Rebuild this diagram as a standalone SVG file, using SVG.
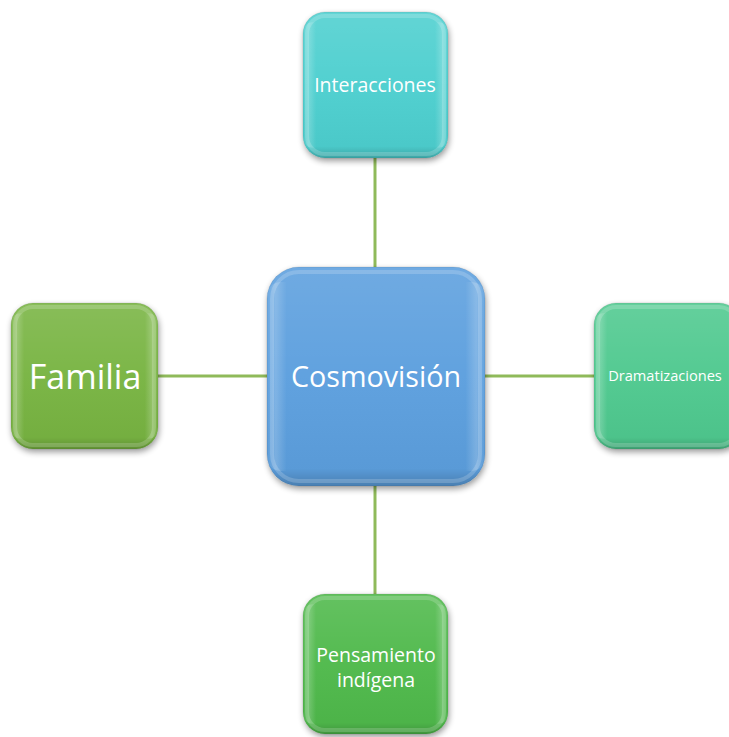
<svg xmlns="http://www.w3.org/2000/svg" width="729" height="737" viewBox="0 0 729 737">
<style>
.lbl{font-family:"Open Sans","Liberation Sans",sans-serif;fill:#ffffff;text-anchor:middle}
.conn{stroke:#8fba5a;stroke-width:3;fill:none}
.bevel{fill:url(#bev)}
.side{fill:url(#sidegrad)}
.edge{fill:none;stroke:#ffffff;stroke-opacity:0.18;stroke-width:4}
.rim{fill:none;stroke:#000000;stroke-opacity:0.08;stroke-width:1}
</style>
<defs>
<filter id="sh" x="-20%" y="-20%" width="140%" height="140%">
<feGaussianBlur in="SourceAlpha" stdDeviation="3"/>
<feOffset dx="1" dy="3" result="b"/>
<feComponentTransfer><feFuncA type="linear" slope="0.4"/></feComponentTransfer>
<feMerge><feMergeNode/><feMergeNode in="SourceGraphic"/></feMerge>
</filter>
<linearGradient id="bev" x1="0" y1="0" x2="0" y2="1">
<stop offset="0" stop-color="#ffffff" stop-opacity="0.12"/>
<stop offset="0.5" stop-color="#ffffff" stop-opacity="0.03"/>
<stop offset="0.92" stop-color="#000000" stop-opacity="0.03"/>
<stop offset="1" stop-color="#000000" stop-opacity="0.2"/>
</linearGradient>
<linearGradient id="sidegrad" x1="0" y1="0" x2="1" y2="0">
<stop offset="0" stop-color="#ffffff" stop-opacity="0"/>
<stop offset="0.04" stop-color="#ffffff" stop-opacity="0.2"/>
<stop offset="0.09" stop-color="#ffffff" stop-opacity="0"/>
<stop offset="0.91" stop-color="#ffffff" stop-opacity="0"/>
<stop offset="0.96" stop-color="#ffffff" stop-opacity="0.2"/>
<stop offset="1" stop-color="#ffffff" stop-opacity="0"/>
</linearGradient>
</defs>
<g id="connectors">
<line class="conn" x1="375" y1="158" x2="375" y2="267"/>
<line class="conn" x1="375" y1="486" x2="375" y2="594"/>
<line class="conn" x1="158" y1="376" x2="267" y2="376"/>
<line class="conn" x1="485" y1="376" x2="594" y2="376"/>
</g>
<g id="node-interacciones">
<rect x="303" y="12" width="145" height="146" rx="22" fill="#4ecfcf" filter="url(#sh)"/>
<rect class="bevel" x="303" y="12" width="145" height="146" rx="22"/>
<rect class="side" x="303" y="22" width="145" height="126" rx="10"/>
<rect class="edge" x="307" y="16" width="137" height="138" rx="18"/>
<rect class="rim" x="303" y="12" width="145" height="146" rx="22"/>
<text class="lbl" x="375" y="92" font-size="19.5">Interacciones</text>
</g>
<g id="node-familia">
<rect x="11" y="303" width="147" height="146" rx="22" fill="#78b443" filter="url(#sh)"/>
<rect class="bevel" x="11" y="303" width="147" height="146" rx="22"/>
<rect class="side" x="11" y="313" width="147" height="126" rx="10"/>
<rect class="edge" x="15" y="307" width="139" height="138" rx="18"/>
<rect class="rim" x="11" y="303" width="147" height="146" rx="22"/>
<text class="lbl" x="85" y="389" font-size="34">Familia</text>
</g>
<g id="node-cosmovision">
<rect x="267" y="267" width="218" height="219" rx="32" fill="#5b9fde" filter="url(#sh)"/>
<rect class="bevel" x="267" y="267" width="218" height="219" rx="32"/>
<rect class="side" x="267" y="282" width="218" height="189" rx="14"/>
<rect class="edge" x="272" y="272" width="208" height="209" rx="27"/>
<rect class="rim" x="267" y="267" width="218" height="219" rx="32"/>
<text class="lbl" x="376" y="387" font-size="28.7">Cosmovisión</text>
</g>
<g id="node-dramatizaciones">
<rect x="594" y="303" width="147" height="146" rx="22" fill="#50c98f" filter="url(#sh)"/>
<rect class="bevel" x="594" y="303" width="147" height="146" rx="22"/>
<rect class="side" x="594" y="313" width="147" height="126" rx="10"/>
<rect class="edge" x="598" y="307" width="139" height="138" rx="18"/>
<rect class="rim" x="594" y="303" width="147" height="146" rx="22"/>
<text class="lbl" x="665" y="381" font-size="14.6">Dramatizaciones</text>
</g>
<g id="node-pensamiento">
<rect x="303" y="594" width="145" height="140" rx="22" fill="#4fb94b" filter="url(#sh)"/>
<rect class="bevel" x="303" y="594" width="145" height="140" rx="22"/>
<rect class="side" x="303" y="604" width="145" height="120" rx="10"/>
<rect class="edge" x="307" y="598" width="137" height="132" rx="18"/>
<rect class="rim" x="303" y="594" width="145" height="140" rx="22"/>
<text class="lbl" x="376" y="662" font-size="19.5">Pensamiento</text>
<text class="lbl" x="376" y="687" font-size="19.5">indígena</text>
</g>
</svg>
